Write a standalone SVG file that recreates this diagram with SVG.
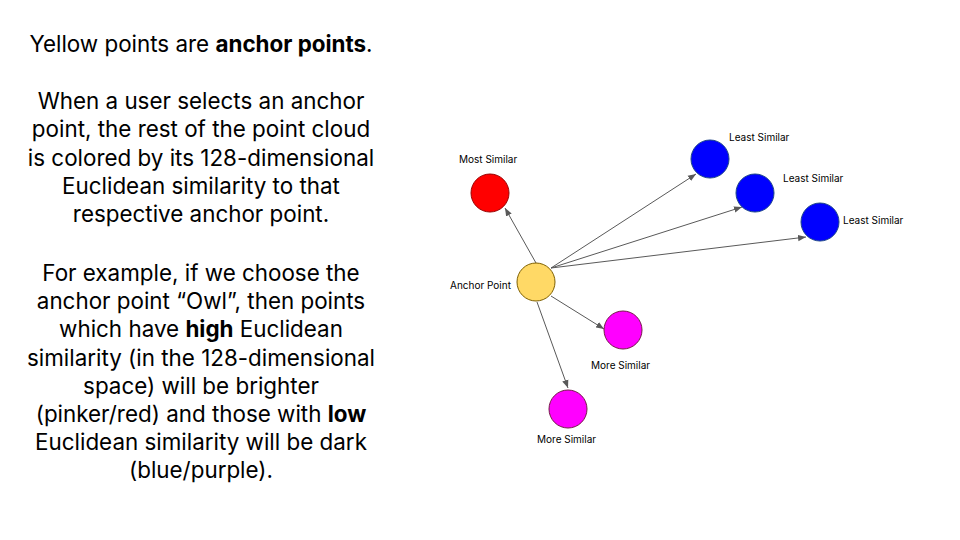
<svg xmlns="http://www.w3.org/2000/svg" width="960" height="540" viewBox="0 0 960 540">
<style>
.body{font-family:Inter,"Noto Sans",sans-serif;font-size:22.4px;fill:#000;text-anchor:middle}
.b{font-weight:bold}
.lbl{font-family:Inter,"Noto Sans",sans-serif;font-size:10px;fill:#000}
.edge{stroke:#595959;stroke-width:1;fill:none;marker-end:url(#ah)}
.anc{fill:#ffd966;stroke:#7f6000;stroke-width:1}
.red{fill:#ff0000;stroke:#990000;stroke-width:1}
.blue{fill:#0000ff;stroke:#1c4587;stroke-width:1}
.mag{fill:#ff00ff;stroke:#741b47;stroke-width:1}
</style>
<defs>
<marker id="ah" viewBox="0 0 10 10" refX="10" refY="5" markerWidth="8" markerHeight="8" markerUnits="userSpaceOnUse" orient="auto">
<path d="M0,1 L10,5 L0,9 z" fill="#595959"/>
</marker>
</defs>
<rect width="960" height="540" fill="#fff"/>
<g id="text">
<text class="body" x="201" y="52">Yellow points are <tspan class="b">anchor points</tspan>.</text>
<text class="body" x="201" y="109">When a user selects an anchor</text>
<text class="body" x="201" y="137">point, the rest of the point cloud</text>
<text class="body" x="201" y="166">is colored by its 128-dimensional</text>
<text class="body" x="201" y="194">Euclidean similarity to that</text>
<text class="body" x="201" y="222">respective anchor point.</text>
<text class="body" x="201" y="281">For example, if we choose the</text>
<text class="body" x="201" y="309">anchor point “Owl”, then points</text>
<text class="body" x="201" y="337">which have <tspan class="b">high</tspan> Euclidean</text>
<text class="body" x="201" y="366">similarity (in the 128-dimensional</text>
<text class="body" x="201" y="394">space) will be brighter</text>
<text class="body" x="201" y="422">(pinker/red) and those with <tspan class="b">low</tspan></text>
<text class="body" x="201" y="450">Euclidean similarity will be dark</text>
<text class="body" x="201" y="478">(blue/purple).</text>
</g>
<g id="connectors">
<line class="edge" x1="536" y1="263" x2="505" y2="208"/>
<line class="edge" x1="551" y1="268" x2="696" y2="174"/>
<line class="edge" x1="551" y1="268" x2="742" y2="207"/>
<line class="edge" x1="551" y1="268" x2="806" y2="237"/>
<line class="edge" x1="551" y1="296" x2="604" y2="329"/>
<line class="edge" x1="537" y1="302" x2="568" y2="388"/>
</g>
<g id="anchor"><circle class="anc" cx="536" cy="282" r="19"/><text class="lbl" x="450" y="289">Anchor Point</text></g>
<g id="most-similar"><circle class="red" cx="490" cy="193" r="19"/><text class="lbl" x="459" y="163">Most Similar</text></g>
<g id="least-similar-1"><circle class="blue" cx="710" cy="159" r="19"/><text class="lbl" x="729" y="141">Least Similar</text></g>
<g id="least-similar-2"><circle class="blue" cx="755" cy="193" r="19"/><text class="lbl" x="783" y="182">Least Similar</text></g>
<g id="least-similar-3"><circle class="blue" cx="820" cy="222" r="19"/><text class="lbl" x="843" y="224">Least Similar</text></g>
<g id="more-similar-1"><circle class="mag" cx="623" cy="330" r="19"/><text class="lbl" x="591" y="369">More Similar</text></g>
<g id="more-similar-2"><circle class="mag" cx="568" cy="409" r="19"/><text class="lbl" x="537" y="443">More Similar</text></g>
</svg>
